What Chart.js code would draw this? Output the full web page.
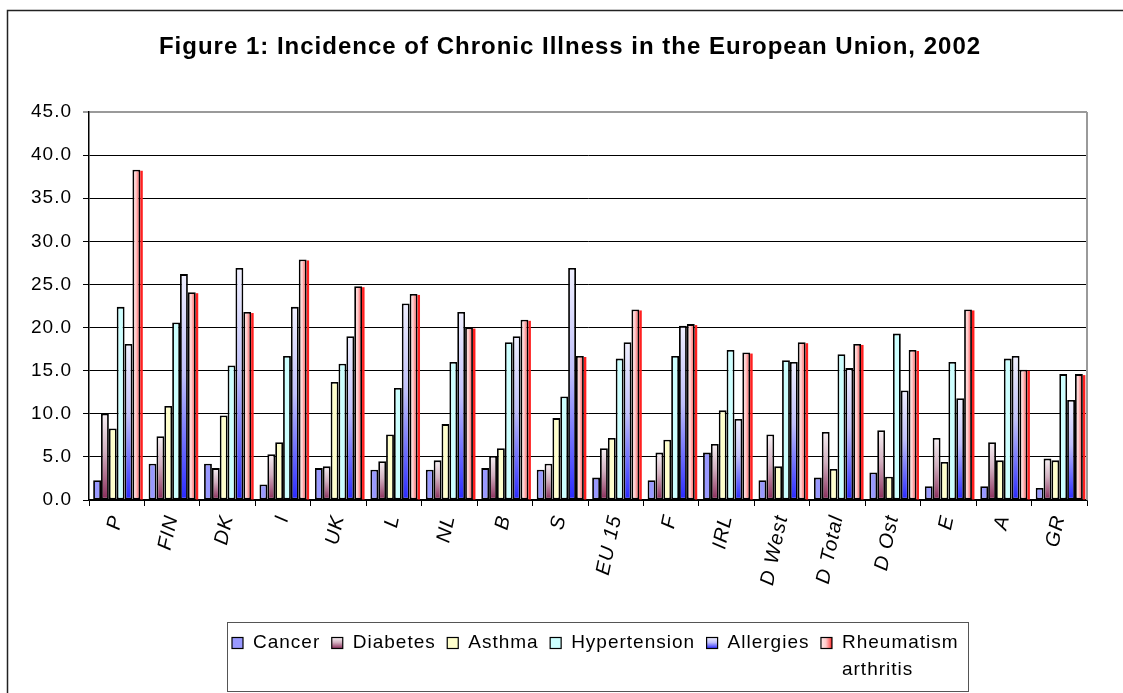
<!DOCTYPE html>
<html><head><meta charset="utf-8">
<script src="https://cdn.jsdelivr.net/npm/chart.js@4.4.1/dist/chart.umd.min.js"></script>
<style>html,body{margin:0;padding:0;background:#fff;overflow:hidden}#wrap{position:relative;width:1123px;height:693px}</style>
</head><body><div id="wrap"><canvas id="c" width="1123" height="693"></canvas></div>
<script>
// ---- data ----
const categories = ['P','FIN','DK','I','UK','L','NL','B','S','EU 15','F','IRL','D West','D Total','D Ost','E','A','GR'];
const seriesNames = ['Cancer','Diabetes','Asthma','Hypertension','Allergies','Rheumatism arthritis'];
const cancer       = [2.3, 4.2, 4.2, 1.8, 3.7, 3.5, 3.5, 3.7, 3.5, 2.6, 2.3, 5.5, 2.3, 2.6, 3.2, 1.6, 1.6, 1.4];
const diabetes     = [10.0, 7.4, 3.7, 5.3, 3.9, 4.5, 4.6, 5.1, 4.2, 6.0, 5.5, 6.5, 7.6, 7.9, 8.1, 7.2, 6.7, 4.8];
const asthma       = [8.3, 10.9, 9.8, 6.7, 13.7, 7.6, 8.8, 6.0, 9.5, 7.2, 7.0, 10.4, 3.9, 3.6, 2.7, 4.4, 4.6, 4.6];
const hypertension = [22.4, 20.6, 15.6, 16.7, 15.8, 13.0, 16.0, 18.3, 12.0, 16.4, 16.7, 17.4, 16.2, 16.9, 19.3, 16.0, 16.4, 14.6];
const allergies    = [18.1, 26.2, 26.9, 22.4, 19.0, 22.8, 21.8, 19.0, 26.9, 18.3, 20.2, 9.4, 16.0, 15.3, 12.7, 11.8, 16.7, 11.6];
const rheumatism   = [38.3, 24.1, 21.8, 27.9, 24.8, 23.9, 20.0, 20.9, 16.7, 22.1, 20.4, 17.1, 18.3, 18.1, 17.4, 22.1, 15.1, 14.6];
const yMin = 0, yMax = 45, yStep = 5;
const titleText = 'Figure 1: Incidence of Chronic Illness in the European Union, 2002';

// ---- styles ----
const FONT = '"Liberation Sans", Arial, sans-serif';
const fills = [
  {solid: '#9999ff'},
  {dir: 'v', stops: [[0, '#f8f2f5'], [0.45, '#d2b0c0'], [1, '#8a2c5a']], edge: null},
  {solid: '#ffffcc'},
  {solid: '#ccffff'},
  {dir: 'v', stops: [[0, '#f0f0ff'], [0.45, '#c0c0fb'], [1, '#2a2aff']], edge: null},
  {dir: 'h', stops: [[0, '#ffeaea'], [0.45, '#ffcccc'], [0.8, '#ff7070'], [1, '#ff1a1a']], edge: '#ff2020'}
];
function makeFill(ctx, f, x0, y0, x1, y1) {
  if (f.solid) return f.solid;
  const g = f.dir === 'v' ? ctx.createLinearGradient(0, y0, 0, y1) : ctx.createLinearGradient(x0, 0, x1, 0);
  f.stops.forEach(([o, c]) => g.addColorStop(o, c));
  return g;
}

const seriesValues = [cancer, diabetes, asthma, hypertension, allergies, rheumatism];

const framePlugin = {
  id: 'frame',
  beforeLayout(chart) { chart.ctx.letterSpacing = '1px'; },
  beforeDraw(chart) {
    const ctx = chart.ctx;
    ctx.letterSpacing = '1px';
    ctx.save();
    ctx.strokeStyle = '#222'; ctx.lineWidth = 1.5;
    ctx.beginPath();
    ctx.moveTo(7.5, 700); ctx.lineTo(7.5, 10.5); ctx.lineTo(1130, 10.5);
    ctx.stroke();
    ctx.font = 'bold 24px ' + FONT;
    ctx.fillStyle = '#000'; ctx.textAlign = 'center'; ctx.textBaseline = 'alphabetic';
    ctx.fillText(titleText, 570, 54);
    ctx.restore();
  }
};

const gradientPlugin = {
  id: 'barGradients',
  beforeDatasetsDraw(chart) {
    const ctx = chart.ctx;
    chart.data.datasets.forEach((ds, i) => {
      const f = fills[i];
      if (f.solid) return;
      chart.getDatasetMeta(i).data.forEach(bar => {
        const p = bar.getProps(['x', 'y', 'base', 'width'], true);
        const fill = makeFill(ctx, f, p.x - p.width / 2, Math.min(p.y, p.base), p.x + p.width / 2, Math.max(p.y, p.base));
        bar.options = Object.assign({}, bar.options, {backgroundColor: fill});
        if (f.edge) {
          ctx.save();
          ctx.fillStyle = f.edge;
          ctx.fillRect(p.x + p.width / 2, Math.min(p.y, p.base) + 1, 2.5, Math.abs(p.base - p.y) - 1);
          ctx.restore();
        }
      });
    });
  },
  afterDatasetsDraw(chart) {
    const ctx = chart.ctx, a = chart.chartArea;
    ctx.save();
    ctx.strokeStyle = '#9a9a9a'; ctx.lineWidth = 2;
    ctx.beginPath(); ctx.moveTo(a.right, a.top); ctx.lineTo(a.right, a.bottom); ctx.stroke();
    ctx.restore();
  }
};

const legendPlugin = {
  id: 'boxLegend',
  afterDraw(chart) {
    const ctx = chart.ctx;
    ctx.save();
    ctx.letterSpacing = '1px';
    ctx.strokeStyle = '#555'; ctx.lineWidth = 1;
    ctx.strokeRect(227.5, 622.5, 741, 69);
    ctx.font = '19px ' + FONT;
    ctx.textBaseline = 'middle'; ctx.textAlign = 'left'; ctx.fillStyle = '#000';
    let x = 232;
    const rowY = 643, lineGap = 27, box = 11;
    chart.data.datasets.forEach((ds, i) => {
      const lines = ds.label.split(' ');
      ctx.fillStyle = makeFill(ctx, fills[i], x, rowY - box / 2, x + box, rowY + box / 2);
      ctx.fillRect(x, rowY - box / 2, box, box);
      ctx.strokeStyle = '#000'; ctx.lineWidth = 1.2;
      ctx.strokeRect(x, rowY - box / 2, box, box);
      ctx.fillStyle = '#000';
      const tx = x + box + 10;
      lines.forEach((ln, k) => ctx.fillText(ln, tx, rowY + k * lineGap));
      const w = Math.max(...lines.map(l => ctx.measureText(l).width));
      x = tx + w + 11.5;
    });
    ctx.restore();
  }
};

Chart.defaults.font.family = FONT;
Chart.defaults.color = '#000';

new Chart(document.getElementById('c'), {
  type: 'bar',
  data: {
    labels: categories,
    datasets: seriesNames.map((name, i) => ({
      label: name,
      data: seriesValues[i],
      backgroundColor: fills[i].solid || '#ffffff',
      borderColor: '#000',
      borderWidth: 1.8,
      borderSkipped: false,
      barPercentage: 1.0,
      categoryPercentage: 0.85
    }))
  },
  options: {
    responsive: false,
    animation: false,
    events: [],
    layout: {padding: {left: 0, right: 36, top: 112, bottom: 0}},
    plugins: {
      legend: {display: false},
      tooltip: {enabled: false},
      title: {display: false}
    },
    scales: {
      x: {
        afterFit(s) { s.height = 193; },
        grid: {drawOnChartArea: false, drawTicks: true, tickLength: 6, color: '#000', offset: true},
        border: {display: true, color: '#000', width: 1.5},
        ticks: {
          minRotation: 78, maxRotation: 78, padding: 7, color: '#000',
          font: {size: 20, style: 'italic', family: FONT}
        }
      },
      y: {
        min: yMin, max: yMax,
        afterFit(s) { s.width = 89; },
        grid: {
          color: c => (c.tick && c.tick.value === yMax) ? '#9a9a9a' : '#000',
          lineWidth: c => (c.tick && c.tick.value === yMax) ? 2 : 1,
          tickLength: 6, drawTicks: true
        },
        border: {display: true, color: '#000', width: 1.5},
        ticks: {
          stepSize: yStep, padding: 11, color: '#000',
          font: {size: 19, family: FONT},
          callback: v => Number(v).toFixed(1)
        }
      }
    }
  },
  plugins: [framePlugin, gradientPlugin, legendPlugin]
});
</script>
</body></html>
